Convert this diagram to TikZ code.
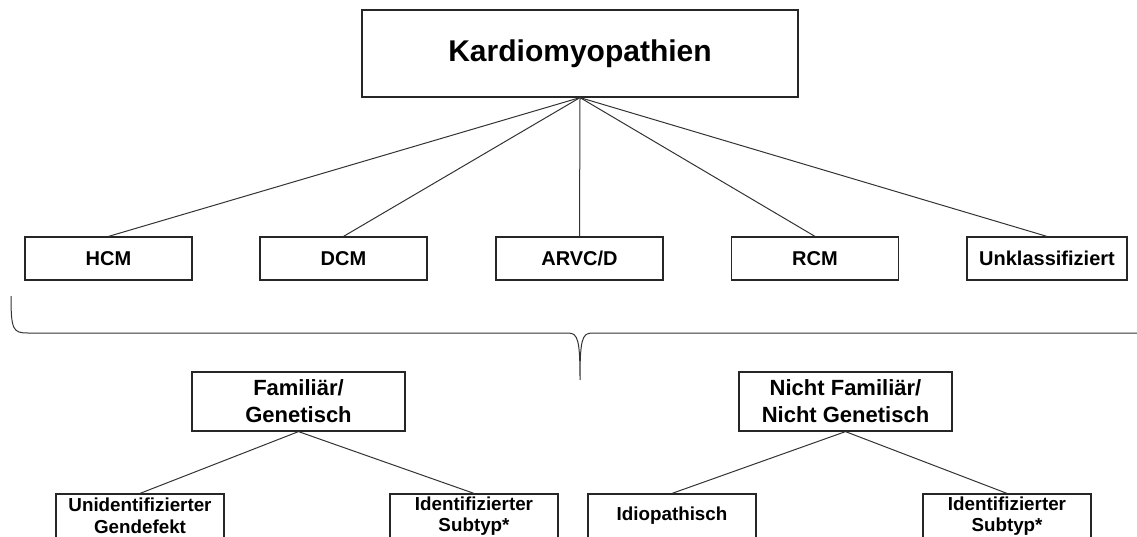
\documentclass[tikz,border=0pt]{standalone}
\usepackage{fontspec}
\setmainfont{Liberation Sans}
\begin{document}
\begin{tikzpicture}[x=1pt,y=-1pt,
  box/.style={draw=black!85, line width=1.2pt, fill=white, inner sep=0pt, align=center,
    font=\bfseries\fontsize{20}{24}\selectfont},
  rowbox/.style={box, minimum width=167pt, minimum height=43pt},
  midbox/.style={box, minimum width=213pt, minimum height=59pt,
    font=\bfseries\fontsize{22}{27}\selectfont},
  lowbox/.style={box, minimum width=168pt, minimum height=44pt,
    font=\bfseries\fontsize{18.8}{21.5}\selectfont},
  conn/.style={draw=black!80, line width=1pt}]
\useasboundingbox (0,0) rectangle (1137,536);

\node[box, minimum width=436pt, minimum height=87pt,
  font=\bfseries\fontsize{30}{36}\selectfont] (top) at (580,53.5) {Kardiomyopathien};

\node[rowbox] (hcm)  at (108.5,258.5) {HCM};
\node[rowbox] (dcm)  at (343.5,258.5) {DCM};
\node[rowbox] (arvc) at (579.5,258.5) {ARVC/D};
\node[rowbox] (rcm)  at (815,258.5) {RCM};
\node[rowbox, minimum width=160pt] (unk) at (1047,258.5) {Unklassifiziert};

\foreach \n in {hcm,dcm,arvc,rcm,unk} \draw[conn] (top.south) -- (\n.north);

% brace
\coordinate (tip) at (580,380);
\draw[conn] (11,296) .. controls (11,330) and (13,333) .. (28,333) -- (568,333)
  .. controls (578,333) and (580,340) .. (tip)
  .. controls (580,340) and (582,333) .. (592,333) -- (1160,333);

\node[midbox] (fam)  at (298.5,401.5) {Familiär/\\Genetisch};
\node[midbox] (nfam) at (845.5,401.5) {Nicht Familiär/\\Nicht Genetisch};

\node[lowbox] (unid)   at (140,516)  {Unidentifizierter\\Gendefekt};
\node[lowbox] (ident1) at (474,516)  {Identifizierter\\Subtyp*};
\node[lowbox] (idio)   at (672,516)  {Idiopathisch};
\node[lowbox] (ident2) at (1007,516) {Identifizierter\\Subtyp*};

\draw[conn] (fam.south) -- (unid.north);
\draw[conn] (fam.south) -- (ident1.north);
\draw[conn] (nfam.south) -- (idio.north);
\draw[conn] (nfam.south) -- (ident2.north);
\end{tikzpicture}
\end{document}
